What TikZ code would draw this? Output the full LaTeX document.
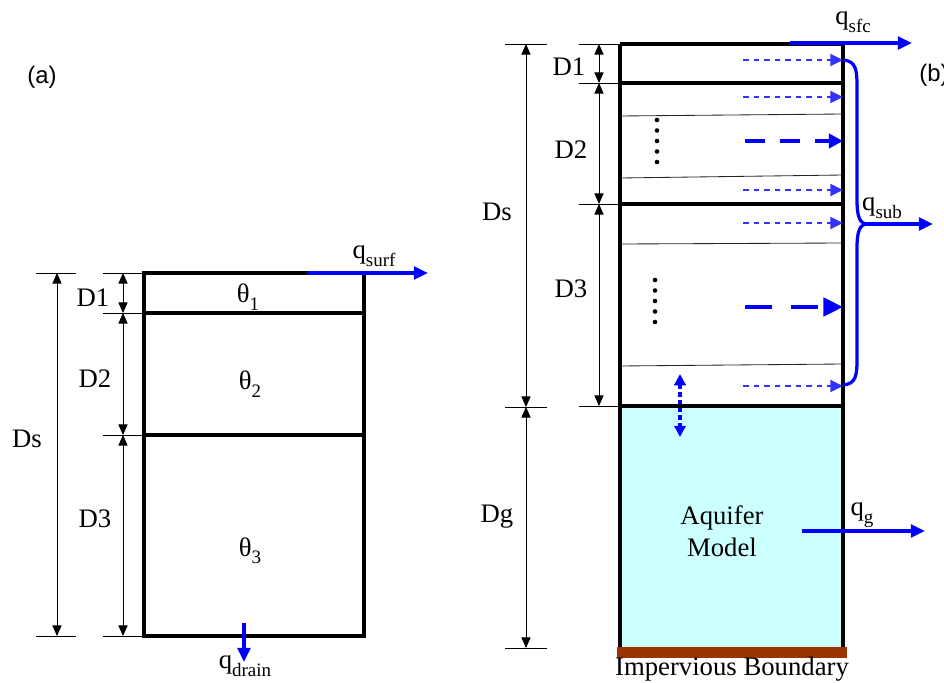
\documentclass[tikz,border=0pt]{standalone}
\usepackage{fontspec}
\setmainfont{Liberation Serif}
\newfontfamily\tagfont{Liberation Sans}
\usetikzlibrary{arrows.meta}

\definecolor{aquifer}{HTML}{CCFFFF}
\definecolor{bedrock}{HTML}{993300}
\newcommand{\sbs}[1]{\raisebox{-0.6ex}{\fontsize{13.5}{13.5}\selectfont #1}}

\tikzset{
  wall/.style={line width=3.3pt},
  layer/.style={line width=0.6pt, black!85},
  tick/.style={line width=0.7pt},
  dim/.style={line width=0.7pt, {Triangle[length=7.5pt,width=6.5pt]}-{Triangle[length=7.5pt,width=6.5pt]}},
  flux/.style={blue, line width=2.3pt, -{Triangle[length=10pt,width=9pt]}},
  seep/.style={blue!80, line width=1.3pt, dash pattern=on 4pt off 3.5pt, -{Triangle[length=9pt,width=8.5pt]}},
  bigseep/.style={blue, line width=2.8pt, dash pattern=on 14pt off 11pt, -{Triangle[length=10pt,width=10pt]}},
  lbl/.style={font=\fontsize{19}{23}\selectfont, inner sep=1pt},
  tag/.style={font=\tagfont\fontsize{17}{20}\selectfont, inner sep=1pt},
}

\begin{document}
\begin{tikzpicture}[x=0.025cm, y=-0.025cm]
\useasboundingbox (0,0) rectangle (944,682);

% Panel (a)
\node[tag] (taga) at (42,77) {(a)};

\foreach \y in {273,313,435,636}
  \draw[tick] (103,\y) -- (143,\y);
\draw[tick] (36,273) -- (76,273);
\draw[tick] (36,636) -- (76,636);

\coordinate (sa0) at (57,273);
\coordinate (sa1) at (57,636);
\coordinate (da0) at (123,273);
\coordinate (da1) at (123,313);
\coordinate (da2) at (123,435);
\coordinate (da3) at (123,636);
\draw[dim] (sa0) -- (sa1);
\draw[dim] (da0) -- (da1);
\draw[dim] (da1) -- (da2);
\draw[dim] (da2) -- (da3);

\node[lbl] (dsa) at (27,439) {Ds};
\node[lbl] (d1a) at (93,298) {D1};
\node[lbl] (d2a) at (95,379) {D2};
\node[lbl] (d3a) at (95,519) {D3};

\draw[wall] (144,273) rectangle (364,636);
\draw[wall] (144,313) -- (364,313);
\draw[wall] (144,435) -- (364,435);

\node[lbl] (th1) at (248,297) {θ\sbs{1}};
\node[lbl] (th2) at (250,384) {θ\sbs{2}};
\node[lbl] (th3) at (250,551) {θ\sbs{3}};

\coordinate (surf0) at (307,273);
\coordinate (surf1) at (428,273);
\draw[flux] (surf0) -- (surf1);
\node[lbl] (qsurf) at (374,256) {q\sbs{surf}};

\coordinate (drain0) at (244,623);
\coordinate (drain1) at (244,662);
\draw[flux] (drain0) -- (drain1);
\node[lbl] (qdrain) at (245,666) {q\sbs{drain}};

% Panel (b)
\node[tag] (tagb) at (934,75) {(b)};

\fill[aquifer] (620,406) rectangle (843,647);

\foreach \y in {44,83,204,406}
  \draw[tick] (579,\y) -- (620,\y);
\draw[tick] (505,44) -- (547,44);
\draw[tick] (505,407) -- (547,407);
\draw[tick] (505,648) -- (547,648);

\coordinate (sb0) at (526,44);
\coordinate (sb1) at (526,407);
\coordinate (sb2) at (526,648);
\coordinate (db0) at (599,44);
\coordinate (db1) at (599,83);
\coordinate (db2) at (599,204);
\coordinate (db3) at (599,406);
\draw[dim] (sb0) -- (sb1);
\draw[dim] (sb1) -- (sb2);
\draw[dim] (db0) -- (db1);
\draw[dim] (db1) -- (db2);
\draw[dim] (db2) -- (db3);

\node[lbl] (dsb) at (497,212) {Ds};
\node[lbl] (dgb) at (497,517) {Dg};
\node[lbl] (d1b) at (569,67) {D1};
\node[lbl] (d2b) at (571,150) {D2};
\node[lbl] (d3b) at (571,289) {D3};

% thin sub-layers
\draw[layer] (620,116) -- (843,114);
\draw[layer] (620,178) -- (843,175);
\draw[layer] (620,244) -- (843,243);
\draw[layer] (620,366) -- (843,364);

\draw[wall] (620,44) -- (620,647);
\draw[wall] (843,44) -- (843,647);
\foreach \y in {44,83,204,406}
  \draw[wall] (620,\y) -- (843,\y);
\fill[bedrock] (617,647) rectangle (847,658);
\node[lbl] (imperv) at (732,669) {Impervious Boundary};

\foreach \y in {120,130.5,141,151.5,162}
  \fill (657,\y) circle (2.3);
\foreach \y in {280,290.5,301,311.5,322}
  \fill (655,\y) circle (2.3);

% lateral flows
\foreach \y in {60,97,190,223,386} {
  \coordinate (s0) at (743,\y);
  \coordinate (s1) at (843,\y);
  \draw[seep] (s0) -- (s1);
}
\coordinate (m0) at (745,141);
\coordinate (m1) at (843,141);
\draw[bigseep] (m0) -- (m1);
\coordinate (n0) at (745,307);
\coordinate (n1) at (843,307);
\draw[bigseep, dash pattern=on 19pt off 14pt, -{Triangle[length=14pt,width=13pt]}] (n0) -- (n1);

\coordinate (sub) at (868,224);
\draw[blue, line width=2.3pt] (843,60) .. controls (856,61) and (857,70) .. (857,86)
  -- (857,200) .. controls (857,218) and (860,224) .. (sub);
\draw[blue, line width=2.3pt] (843,385) .. controls (856,384) and (857,375) .. (857,360)
  -- (857,248) .. controls (857,230) and (860,224) .. (sub);
\coordinate (sub1) at (933,224);
\draw[flux] (sub) -- (sub1);
\node[lbl] (qsub) at (882,208) {q\sbs{sub}};

\coordinate (sfc0) at (790,43);
\coordinate (sfc1) at (912,43);
\draw[flux] (sfc0) -- (sfc1);
\node[lbl] (qsfc) at (853,22) {q\sbs{sfc}};

% recharge
\coordinate (rc0) at (680,374);
\coordinate (rc1) at (680,437);
\draw[blue, line width=2.8pt, dash pattern=on 3pt off 2.5pt,
  {Triangle[length=8pt,width=8pt]}-{Triangle[length=8pt,width=8pt]}] (rc0) -- (rc1);

% aquifer
\node[lbl, align=center] (aqm) at (722,531) {Aquifer\\Model};
\coordinate (g0) at (802,531);
\coordinate (g1) at (925,531);
\draw[flux] (g0) -- (g1);
\node[lbl] (qg) at (862,515) {q\sbs{g}};

\end{tikzpicture}
\end{document}
